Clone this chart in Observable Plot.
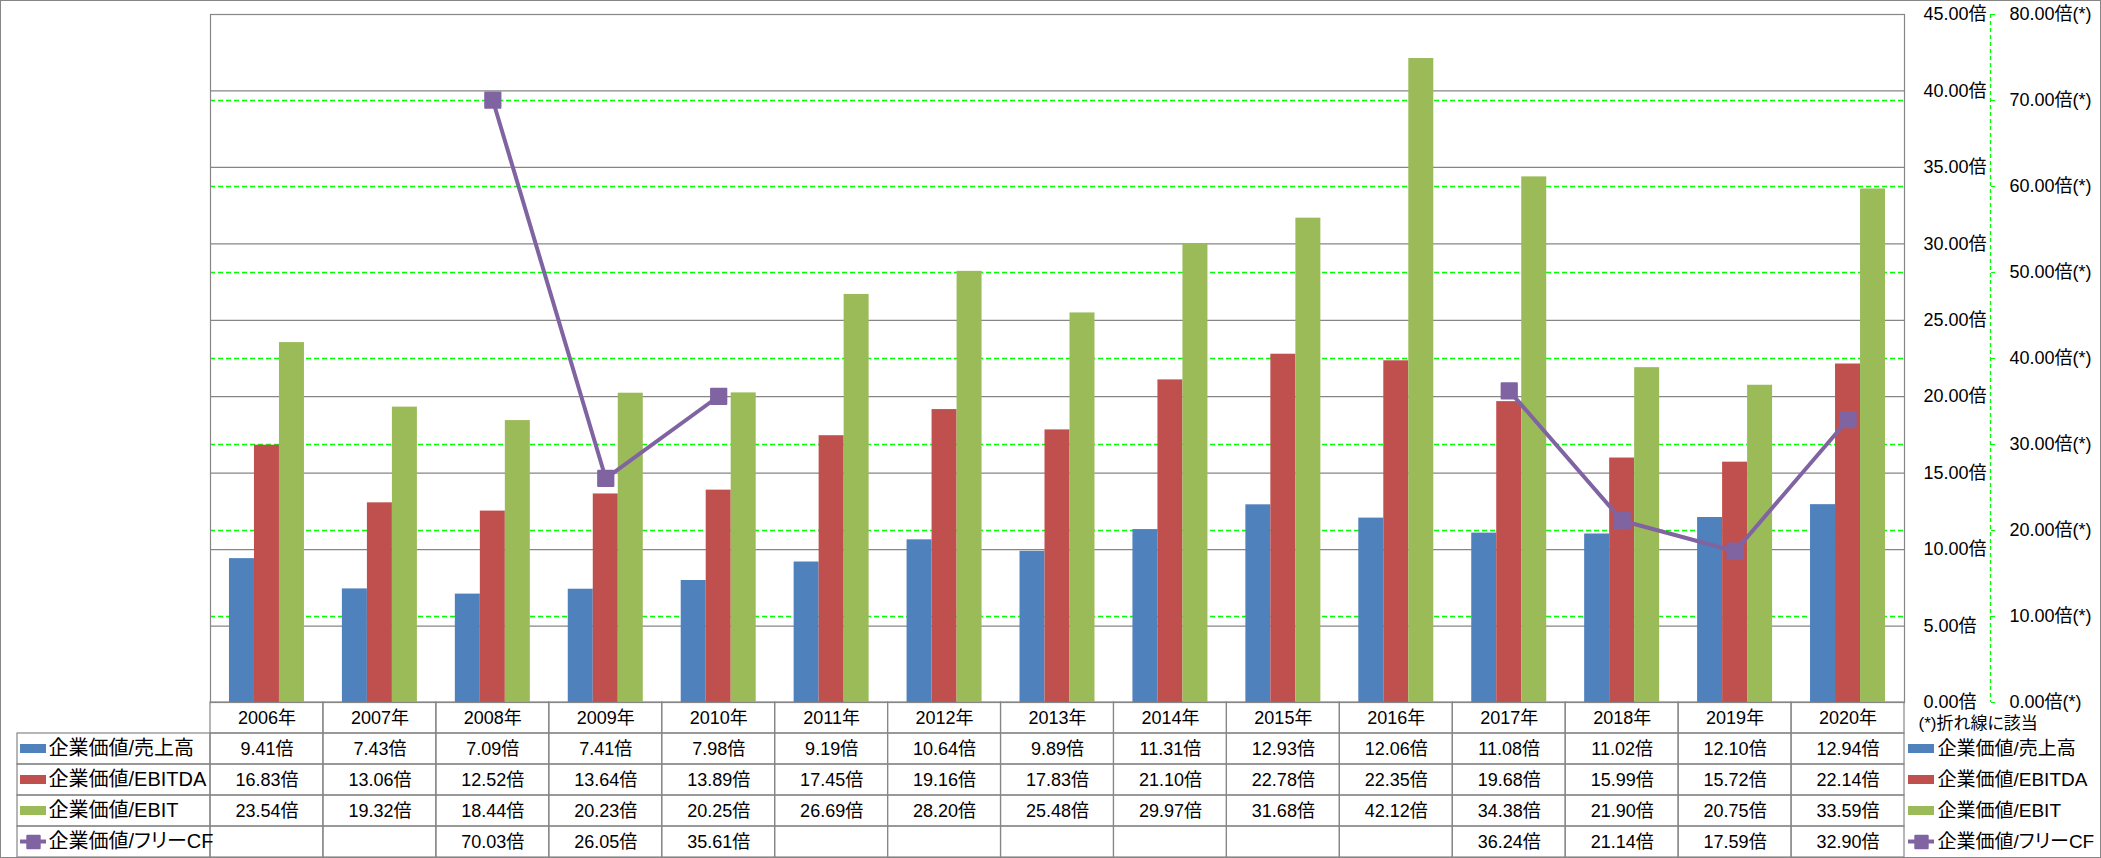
<!DOCTYPE html>
<html>
<head>
<meta charset="utf-8">
<script src="https://cdn.jsdelivr.net/npm/d3@7"></script>
<script src="https://cdn.jsdelivr.net/npm/@observablehq/plot@0.6"></script>
<style>
  body { margin: 0; background: #fff; }
  #wrap { position: relative; width: 2101px; height: 858px; overflow: hidden; background: #fff; }
  #wrap svg { position: absolute; left: 0; overflow: visible; }
  #border { position: absolute; left: 0; top: 0; width: 2099px; height: 856px; border: 1px solid #868686; pointer-events: none; }
</style>
</head>
<body>
<div id="wrap"><div id="border"></div></div>
<script>
// ---------------- data ----------------
const years = [2006, 2007, 2008, 2009, 2010, 2011, 2012, 2013, 2014, 2015, 2016, 2017, 2018, 2019, 2020];
const seriesNames = ["企業価値/売上高", "企業価値/EBITDA", "企業価値/EBIT", "企業価値/フリーCF"];
const sales  = [9.41, 7.43, 7.09, 7.41, 7.98, 9.19, 10.64, 9.89, 11.31, 12.93, 12.06, 11.08, 11.02, 12.10, 12.94];
const ebitda = [16.83, 13.06, 12.52, 13.64, 13.89, 17.45, 19.16, 17.83, 21.10, 22.78, 22.35, 19.68, 15.99, 15.72, 22.14];
const ebit   = [23.54, 19.32, 18.44, 20.23, 20.25, 26.69, 28.20, 25.48, 29.97, 31.68, 42.12, 34.38, 21.90, 20.75, 33.59];
const fcf    = [null, null, 70.03, 26.05, 35.61, null, null, null, null, null, null, 36.24, 21.14, 17.59, 32.90];
const primaryTicks = [0, 5, 10, 15, 20, 25, 30, 35, 40, 45];
const secondaryTicks = [0, 10, 20, 30, 40, 50, 60, 70, 80];
const colors = ["#4F81BD", "#C0504D", "#9BBB59", "#8064A2"];
const footnote = "(*)折れ線に該当";

// ---------------- layout ----------------
const W = 2101, H = 858;
const mL = 210, mR = 197, mT = 14, zeroY = 702;
const font = '"Liberation Sans", "Noto Sans CJK JP", sans-serif';
const xDom = [years[0] - 0.5, years[years.length - 1] + 0.5];
const ppy = (W - mL - mR) / (xDom[1] - xDom[0]);
const px = p => p / ppy;                 // pixels -> x units
const k = 45 / 80;                       // secondary -> primary
const barW = px(25);
const gridColor = "#868686";
const lime = "#00FF00";

const barSeries = [sales, ebitda, ebit];
const bars = years.flatMap((yr, j) => barSeries.map((arr, i) => ({year: yr, i, series: seriesNames[i], value: arr[j]})));
const fcfData = years.map((yr, j) => ({year: yr, v: fcf[j]}));

const chart = Plot.plot({
  width: W, height: zeroY + 1,
  marginLeft: mL, marginRight: mR, marginTop: mT, marginBottom: 1,
  style: {fontFamily: font, fontSize: "18px", background: "transparent", overflow: "visible", color: "#000"},
  x: {domain: xDom, axis: null},
  y: {domain: [0, 45], axis: null, label: null},
  color: {domain: seriesNames.slice(0, 3), range: colors.slice(0, 3)},
  marks: [
    Plot.ruleY(primaryTicks, {stroke: gridColor, strokeWidth: 1.2}),
    Plot.ruleY(secondaryTicks.filter(v => v > 0 && v < 80).map(v => v * k), {stroke: lime, strokeDasharray: "5,3", strokeWidth: 1.3}),
    Plot.rect(bars, {x1: d => d.year + (d.i - 1.5) * barW, x2: d => d.year + (d.i - 0.5) * barW, y1: () => 0, y2: "value", fill: "series"}),
    Plot.frame({stroke: gridColor, strokeWidth: 1.2}),
    Plot.line(fcfData, {x: "year", y: d => d.v == null ? NaN : d.v * k, stroke: colors[3], strokeWidth: 4}),
    Plot.dot(fcfData.filter(d => d.v != null), {x: "year", y: d => d.v * k, symbol: "square", r: 8.6, fill: colors[3], stroke: colors[3], strokeWidth: 2, strokeLinejoin: "round"}),
    Plot.axisY(primaryTicks, {anchor: "right", label: null, tickSize: 0, tickPadding: 19, tickFormat: d => d.toFixed(2) + "倍", fontSize: 18, fill: "#000"}),
    Plot.ruleX([xDom[1]], {dx: 86, stroke: lime, strokeDasharray: "4,3", strokeWidth: 1.3}),
    Plot.axisY(secondaryTicks.map(v => v * k), {anchor: "right", label: null, dx: 86, tickSize: 4, tickPadding: 15, stroke: lime, fill: "#000", tickFormat: d => (d / k).toFixed(2) + "倍(*)", fontSize: 18})
  ]
});
chart.style.top = "0px";
chart.style.zIndex = 2;

// ---------------- data table ----------------
const rowKeys = ["hdr", "r0", "r1", "r2", "r3"];
const rowValues = [sales, ebitda, ebit, fcf];
const tableCells = years.flatMap(yr => rowKeys.map(r => ({year: yr, row: r})));
const valueCells = years.flatMap((yr, j) => rowValues.map((arr, i) => ({year: yr, row: rowKeys[i + 1], v: arr[j]}))).filter(d => d.v != null);
const legendRows = seriesNames.map((n, i) => ({name: n, row: rowKeys[i + 1], color: colors[i], i}));
const barRows = legendRows.filter(d => d.i < 3);
const lineRows = legendRows.filter(d => d.i === 3);

const leftKeyX1 = xDom[0] - px(mL - 20), leftKeyX2 = xDom[0] - px(mL - 46);
const rightKeyX1 = xDom[1] + px(4), rightKeyX2 = xDom[1] + px(30);

const table = Plot.plot({
  width: W, height: H - zeroY,
  marginLeft: mL, marginRight: mR, marginTop: 0, marginBottom: 1,
  style: {fontFamily: font, fontSize: "18px", background: "transparent", overflow: "visible", color: "#000", fontFeatureSettings: '"palt"'},
  x: {domain: xDom, axis: null},
  y: {domain: rowKeys, axis: null, padding: 0},
  marks: [
    Plot.barX(tableCells, {x1: d => d.year - 0.5, x2: d => d.year + 0.5, y: "row", fill: "none", stroke: gridColor, strokeWidth: 1.2}),
    Plot.barX(legendRows, {x1: () => xDom[0] - px(mL - 17), x2: () => xDom[0], y: "row", fill: "none", stroke: gridColor, strokeWidth: 1.2}),
    Plot.text(years, {x: d => d, y: () => "hdr", text: d => d + "年", fontSize: 18}),
    Plot.text(valueCells, {x: "year", y: "row", text: d => d.v.toFixed(2) + "倍", fontSize: 18}),
    // left legend keys
    Plot.barX(barRows, {x1: () => leftKeyX1, x2: () => leftKeyX2, y: "row", fill: "color", insetTop: 11, insetBottom: 11}),
    Plot.barX(lineRows, {x1: () => leftKeyX1, x2: () => leftKeyX2, y: "row", fill: "color", insetTop: 13.5, insetBottom: 13.5}),
    Plot.dot(lineRows, {x: () => (leftKeyX1 + leftKeyX2) / 2, y: "row", symbol: "square", r: 7, fill: "color", stroke: "color", strokeWidth: 2, strokeLinejoin: "round"}),
    Plot.text(legendRows, {x: () => xDom[0], dx: -(mL - 48), y: "row", text: "name", textAnchor: "start", fontSize: 20}),
    // right legend
    Plot.text([footnote], {x: () => xDom[1], dx: 14, dy: 6, y: () => "hdr", text: d => d, textAnchor: "start", fontSize: 17}),
    Plot.barX(barRows, {x1: () => rightKeyX1, x2: () => rightKeyX2, y: "row", fill: "color", insetTop: 11, insetBottom: 11}),
    Plot.barX(lineRows, {x1: () => rightKeyX1, x2: () => rightKeyX2, y: "row", fill: "color", insetTop: 13.5, insetBottom: 13.5}),
    Plot.dot(lineRows, {x: () => (rightKeyX1 + rightKeyX2) / 2, y: "row", symbol: "square", r: 7, fill: "color", stroke: "color", strokeWidth: 2, strokeLinejoin: "round"}),
    Plot.text(legendRows, {x: () => xDom[1], dx: 33, y: "row", text: "name", textAnchor: "start", fontSize: 19})
  ]
});
table.style.top = zeroY + "px";
table.style.zIndex = 1;

const wrap = document.getElementById("wrap");
wrap.appendChild(table);
wrap.appendChild(chart);
</script>
</body>
</html>
